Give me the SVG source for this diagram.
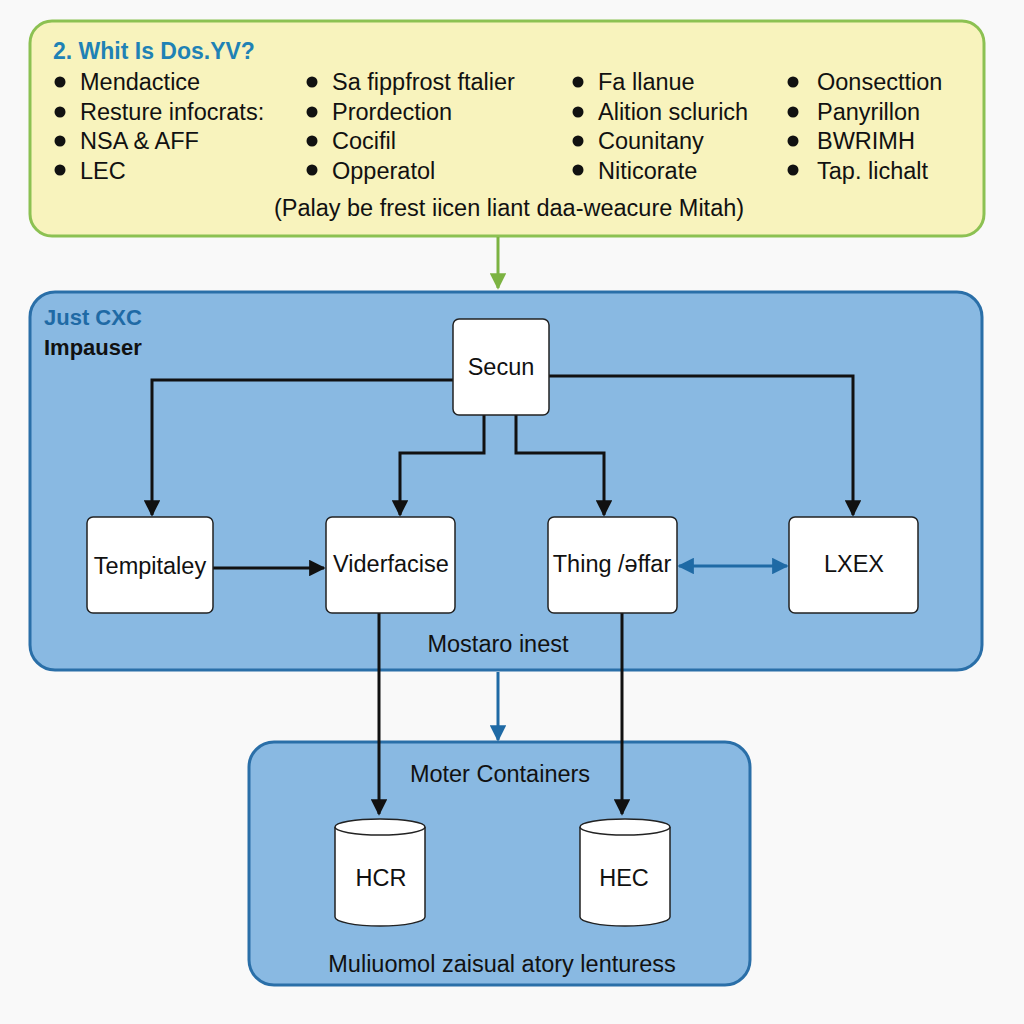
<svg xmlns="http://www.w3.org/2000/svg" width="1024" height="1024" viewBox="0 0 1024 1024">
<defs>
<style>
text{font-family:"Liberation Sans",Arial,sans-serif;fill:#111}
.b{font-size:23.5px}
.n{font-size:23.5px;text-anchor:middle}
.c{stroke:#111;stroke-width:3;fill:none}
.node{fill:#fff;stroke:#222;stroke-width:1.5}
</style>
<marker id="ak" viewBox="0 0 10 10" refX="9" refY="5" markerWidth="5.5" markerHeight="5.5" orient="auto-start-reverse"><path d="M0,0L10,5L0,10z" fill="#111"/></marker>
<marker id="ab" viewBox="0 0 10 10" refX="9" refY="5" markerWidth="5.5" markerHeight="5.5" orient="auto-start-reverse"><path d="M0,0L10,5L0,10z" fill="#1f6aa5"/></marker>
<marker id="ag" viewBox="0 0 10 10" refX="9" refY="5" markerWidth="5.5" markerHeight="5.5" orient="auto"><path d="M0,0L10,5L0,10z" fill="#7cb342"/></marker>
</defs>
<rect width="1024" height="1024" fill="#f9f9f9"/>

<g id="top-panel">
<rect x="30" y="21" width="954" height="215" rx="22" fill="#f8f3bd" stroke="#8cc152" stroke-width="3"/>
<text x="53" y="59" style="font-size:23px;font-weight:bold;fill:#1f82b5">2. Whit Is Dos.YV?</text>
<g fill="#111">
<circle cx="60" cy="82" r="5.5"/><circle cx="60" cy="112" r="5.5"/><circle cx="60" cy="141" r="5.5"/><circle cx="60" cy="170" r="5.5"/>
<circle cx="312" cy="82" r="5.5"/><circle cx="312" cy="112" r="5.5"/><circle cx="312" cy="141" r="5.5"/><circle cx="312" cy="170" r="5.5"/>
<circle cx="578" cy="82" r="5.5"/><circle cx="578" cy="112" r="5.5"/><circle cx="578" cy="141" r="5.5"/><circle cx="578" cy="170" r="5.5"/>
<circle cx="793" cy="82" r="5.5"/><circle cx="793" cy="112" r="5.5"/><circle cx="793" cy="141" r="5.5"/><circle cx="793" cy="170" r="5.5"/>
</g>
<text class="b" x="80" y="90">Mendactice</text>
<text class="b" x="80" y="120">Resture infocrats:</text>
<text class="b" x="80" y="149">NSA &amp; AFF</text>
<text class="b" x="80" y="179">LEC</text>
<text class="b" x="332" y="90">Sa fippfrost ftalier</text>
<text class="b" x="332" y="120">Prordection</text>
<text class="b" x="332" y="149">Cocifil</text>
<text class="b" x="332" y="179">Opperatol</text>
<text class="b" x="598" y="90">Fa llanue</text>
<text class="b" x="598" y="120">Alition sclurich</text>
<text class="b" x="598" y="149">Counitany</text>
<text class="b" x="598" y="179">Niticorate</text>
<text class="b" x="817" y="90">Oonsecttion</text>
<text class="b" x="817" y="120">Panyrillon</text>
<text class="b" x="817" y="149">BWRIMH</text>
<text class="b" x="817" y="179">Tap. lichalt</text>
<text class="n" x="509" y="216">(Palay be frest iicen liant daa-weacure Mitah)</text>
</g>

<g id="middle-container">
<rect x="30" y="292" width="952" height="378" rx="25" fill="#89b9e2" stroke="#2a6fa8" stroke-width="3"/>
<text x="44" y="325" style="font-size:22px;font-weight:bold;fill:#1f6aa5">Just CXC</text>
<text x="44" y="355" style="font-size:22px;font-weight:bold">Impauser</text>
<text class="n" x="498" y="652">Mostaro inest</text>
</g>

<g id="bottom-container">
<rect x="249" y="742" width="501" height="243" rx="25" fill="#89b9e2" stroke="#2a6fa8" stroke-width="3"/>
<text class="n" x="500" y="782">Moter Containers</text>
<text class="n" x="502" y="972">Muliuomol zaisual atory lenturess</text>
</g>

<g id="connectors">
<line x1="498" y1="237" x2="498" y2="288" stroke="#7cb342" stroke-width="3" marker-end="url(#ag)"/>
<path class="c" d="M453,380 H152 V515" marker-end="url(#ak)"/>
<path class="c" d="M484,415 V453 H400 V515" marker-end="url(#ak)"/>
<path class="c" d="M516,415 V453 H604 V515" marker-end="url(#ak)"/>
<path class="c" d="M549,376 H853 V515" marker-end="url(#ak)"/>
<line class="c" x1="213" y1="568" x2="324" y2="568" marker-end="url(#ak)"/>
<line x1="679" y1="566" x2="787" y2="566" stroke="#1f6aa5" stroke-width="3" marker-start="url(#ab)" marker-end="url(#ab)"/>
<line class="c" x1="379" y1="613" x2="379" y2="814" marker-end="url(#ak)"/>
<line class="c" x1="622" y1="613" x2="622" y2="814" marker-end="url(#ak)"/>
<line x1="498" y1="672" x2="498" y2="740" stroke="#1f6aa5" stroke-width="3" marker-end="url(#ab)"/>
</g>

<g id="node-secun"><rect class="node" x="453" y="319" width="96" height="96" rx="6"/><text class="n" x="501" y="375">Secun</text></g>
<g id="node-tempitaley"><rect class="node" x="87" y="517" width="126" height="96" rx="6"/><text class="n" x="150" y="574">Tempitaley</text></g>
<g id="node-viderfacise"><rect class="node" x="326" y="517" width="129" height="96" rx="6"/><text class="n" x="391" y="572">Viderfacise</text></g>
<g id="node-thing"><rect class="node" x="548" y="517" width="129" height="96" rx="6"/><text class="n" x="612" y="572">Thing /ǝffar</text></g>
<g id="node-lxex"><rect class="node" x="789" y="517" width="129" height="96" rx="6"/><text class="n" x="854" y="572">LXEX</text></g>

<g id="node-hcr">
<path class="node" d="M335,827 V917 A45,9 0 0 0 425,917 V827"/>
<ellipse class="node" cx="380" cy="827" rx="45" ry="8"/>
<text class="n" x="381" y="886">HCR</text>
</g>
<g id="node-hec">
<path class="node" d="M580,827 V917 A45,9 0 0 0 670,917 V827"/>
<ellipse class="node" cx="625" cy="827" rx="45" ry="8"/>
<text class="n" x="624" y="886">HEC</text>
</g>
</svg>
